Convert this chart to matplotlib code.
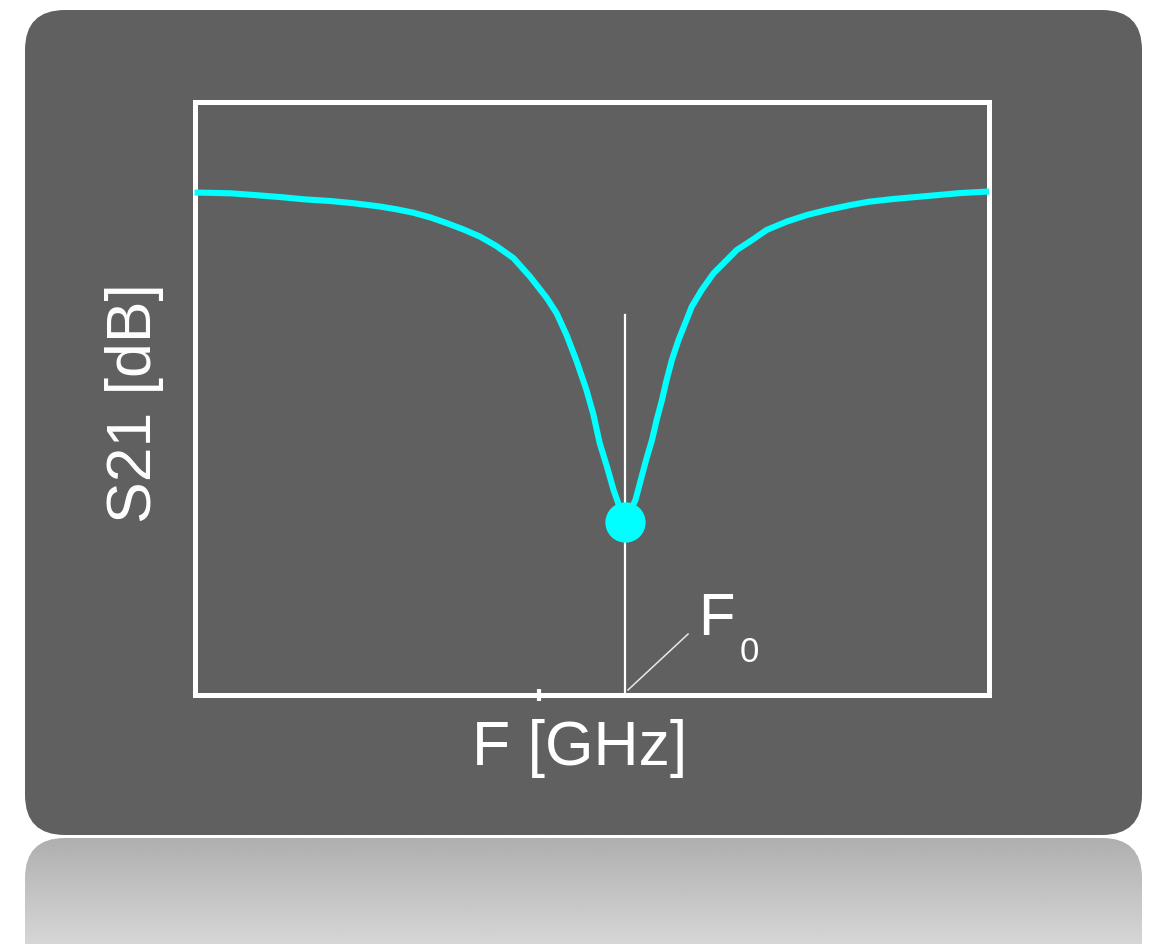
import numpy as np
import matplotlib
matplotlib.use("Agg")
import matplotlib.pyplot as plt
from matplotlib.patches import FancyBboxPatch

plt.rcParams['font.family'] = ['Liberation Sans', 'DejaVu Sans']

# Measured notch response: frequency [GHz] and transmission S21 [dB]
freq_ghz = [1.800, 1.854, 1.891, 1.929, 1.967, 2.005, 2.042, 2.080, 2.105,
            2.130, 2.156, 2.181, 2.206, 2.231, 2.256, 2.282, 2.307, 2.332,
            2.347, 2.362, 2.377, 2.392, 2.402, 2.412, 2.423, 2.433, 2.450,
            2.466, 2.474, 2.482, 2.491, 2.498, 2.506, 2.513, 2.521, 2.531,
            2.541, 2.551, 2.566, 2.584, 2.604, 2.619, 2.642, 2.664, 2.694,
            2.725, 2.755, 2.790, 2.818, 2.855, 2.906, 2.956, 3.000]
s21_db = [-4.58, -4.62, -4.71, -4.81, -4.93, -5.01, -5.13, -5.29, -5.43,
          -5.60, -5.84, -6.13, -6.45, -6.81, -7.29, -7.91, -8.85, -9.92,
          -10.70, -11.80, -13.11, -14.58, -15.76, -17.27, -18.47, -19.65, -21.27,
          -20.15, -19.14, -18.13, -17.11, -16.10, -15.09, -14.08, -13.06, -12.05,
          -11.21, -10.36, -9.52, -8.67, -8.00, -7.49, -6.99, -6.48, -6.06,
          -5.72, -5.47, -5.22, -5.05, -4.91, -4.76, -4.61, -4.53]

f0_ghz = 2.450          # resonance frequency
f0_db = -21.27          # transmission at resonance
marker_top_db = -10.8   # upper end of the F0 marker line
ref_tick_ghz = [2.32]
freq_range = (1.80, 3.00)
db_range = (-30.0, 0.0)

W, H = 1155, 944
PANEL = '#606060'

fig = plt.figure(figsize=(W / 100, H / 100), dpi=100)
fig.patch.set_facecolor('white')

# Background layer in pixel units: rounded panel and its reflection
bg = fig.add_axes([0, 0, 1, 1], zorder=0)
bg.set_xlim(0, W)
bg.set_ylim(H, 0)
bg.axis('off')

panel = FancyBboxPatch((25, 10), 1117, 825,
                       boxstyle='round,pad=0,rounding_size=40',
                       facecolor=PANEL, edgecolor='none')
bg.add_patch(panel)

refl = FancyBboxPatch((25, 838), 1117, 300,
                      boxstyle='round,pad=0,rounding_size=40',
                      facecolor='none', edgecolor='none')
bg.add_patch(refl)
grad = np.linspace(0.685, 0.84, 256).reshape(-1, 1)
img = bg.imshow(grad, cmap='gray', vmin=0, vmax=1, aspect='auto',
                extent=(25, 1142, 944, 838), interpolation='bilinear')
img.set_clip_path(refl)
bg.set_xlim(0, W)
bg.set_ylim(H, 0)

# Plot area
ax = fig.add_axes([0.1684, 0.2643, 0.6879, 0.6276], zorder=2)
ax.set_facecolor('none')
ax.set_xlim(*freq_range)
ax.set_ylim(*db_range)
for sp in ax.spines.values():
    sp.set_color('white')
    sp.set_linewidth(3.6)
ax.set_xticks(ref_tick_ghz)
ax.set_yticks([])
ax.tick_params(axis='x', direction='inout', length=8, width=3,
               color='white', labelbottom=False)

# F0 marker line
ax.plot([f0_ghz, f0_ghz], [db_range[0], marker_top_db],
        color='white', lw=1.6, zorder=2)

# S21 curve and resonance point
ax.plot(freq_ghz, s21_db, color='#00ffff', lw=4.4, solid_joinstyle='round',
        solid_capstyle='butt', zorder=3, clip_on=False)
ax.plot([f0_ghz], [f0_db], 'o', color='#00ffff', markersize=29,
        markeredgewidth=0, zorder=4)

# F0 callout
ax.plot([2.4547, 2.5454], [-29.77, -26.94], color='#e8e8e8', lw=1.1,
        zorder=2)
ax.text(2.561, -26.99, 'F', color='white', fontsize=43,
        ha='left', va='baseline')
ax.text(2.624, -28.35, '0', color='white', fontsize=25,
        ha='left', va='baseline')

# Axis titles
fig.text(579.5 / W, 1 - 765 / H, 'F [GHz]', color='white', fontsize=45,
         ha='center', va='baseline')
fig.text(151 / W, 1 - 403 / H, 'S21 [dB]', color='white', fontsize=45,
         rotation=90, rotation_mode='anchor', ha='center', va='baseline')

fig.savefig('out.png', dpi=100, facecolor='white')
